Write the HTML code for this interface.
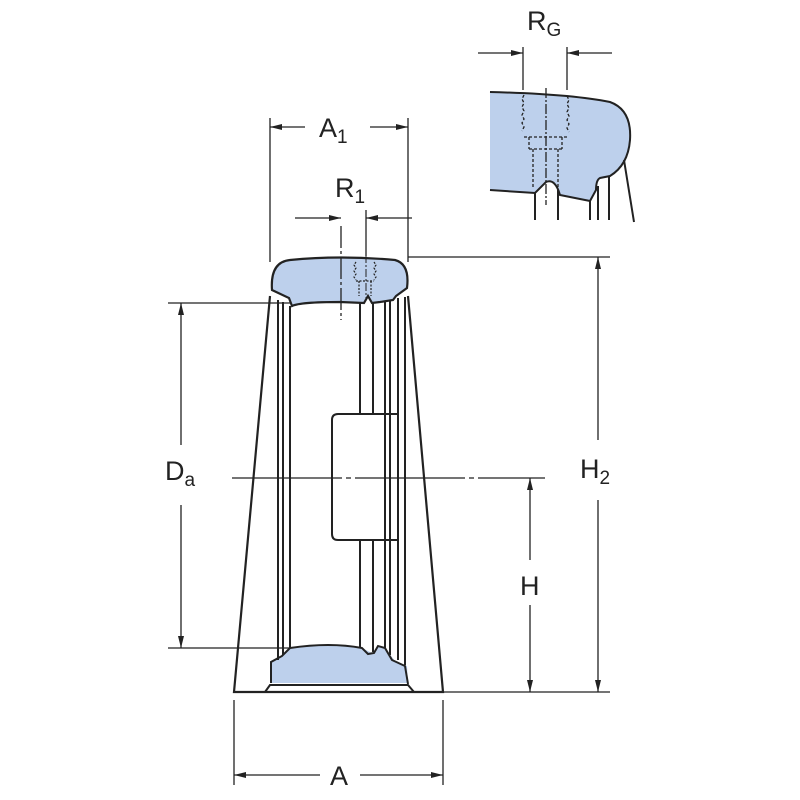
<!DOCTYPE html>
<html><head><style>body{margin:0;background:#fff}svg{display:block}text{font-family:"Liberation Sans",sans-serif;fill:#222}</style></head>
<body>
<svg width="800" height="800" viewBox="0 0 800 800" xmlns="http://www.w3.org/2000/svg">
<defs><marker id="a" markerWidth="12" markerHeight="8" refX="12" refY="4" orient="auto" markerUnits="userSpaceOnUse"><path d="M0,1 L12,4 L0,7 Z" fill="#222"/></marker></defs>
<g stroke="#222" fill="none" stroke-width="1.3">
<!-- blue cap -->
<path d="M272,290 Q270,262 290,260 Q340,255 395,260 Q410,264 407,288 L396,296 L393,300 L380,302 L372,303 L368,296 L364,303 L340,302 Q300,302 292,306 L289,298 Z" fill="#bdd0ec" stroke-width="2.2"/>
<!-- blue bottom -->
<path d="M271,683 L271,662 L282,656 L290,648 Q330,642 362,648 L372,653 L378,646 L385,648 L395,661 L407,666 L408,683 Z" fill="#bdd0ec" stroke="none"/>
<path d="M271,683 L271,662 L282,656 L290,648 Q330,642 362,648 L368,654 L374,653 L378,646 L385,648 L392,660 L405,666 L408,684" stroke-width="2"/>
<!-- outer taper -->
<path d="M270,296 L234,692 L443,692 L408,296" stroke-width="2.2"/>
<path d="M265,692 L270,685 L408,685 L414,692" stroke-width="2"/>
<!-- verticals -->
<g stroke-width="2">
<line x1="278" y1="300" x2="278" y2="660"/><line x1="283" y1="302" x2="283" y2="655"/><line x1="290" y1="306" x2="290" y2="648"/>
<line x1="360" y1="302" x2="360" y2="414"/><line x1="360" y1="540" x2="360" y2="648"/>
<line x1="373" y1="303" x2="373" y2="414"/><line x1="373" y1="540" x2="373" y2="652"/>
<line x1="385" y1="302" x2="385" y2="648"/><line x1="390" y1="301" x2="390" y2="655"/>
<line x1="398" y1="298" x2="398" y2="660"/><line x1="405" y1="297" x2="405" y2="665"/>
<path d="M398,414 L338,414 Q332,414 332,420 L332,534 Q332,540 338,540 L398,540"/>
</g>
<!-- thread -->
<path d="M356,262 l-2,3 l2,3 l-2,3 l2,3 l-2,3 l2,3 M374,262 l2,3 l-2,3 l2,3 l-2,3 l2,3 l-2,3 M356,281 h18 M359,281 v15 M371,281 v15" stroke-dasharray="2,1.5" stroke-width="1.2"/>
<line x1="366" y1="255" x2="366" y2="300" stroke-dasharray="8,2,2,2" stroke-width="1"/>
<line x1="341" y1="226" x2="341" y2="320" stroke-dasharray="22,3,3,3"/>
<!-- center line -->
<line x1="232" y1="478" x2="545" y2="478" stroke-dasharray="110,4,5,4"/>
<!-- dimensions -->
<line x1="270" y1="118" x2="270" y2="262"/><line x1="408" y1="118" x2="408" y2="262"/>
<line x1="305" y1="127" x2="270" y2="127" marker-end="url(#a)"/><line x1="370" y1="127" x2="408" y2="127" marker-end="url(#a)"/>
<line x1="366" y1="210" x2="366" y2="256"/>
<line x1="295" y1="218" x2="341" y2="218" marker-end="url(#a)"/><line x1="412" y1="218" x2="366" y2="218" marker-end="url(#a)"/>
<line x1="408" y1="257" x2="610" y2="257"/><line x1="443" y1="692" x2="610" y2="692"/>
<line x1="598" y1="440" x2="598" y2="257" marker-end="url(#a)"/><line x1="598" y1="500" x2="598" y2="692" marker-end="url(#a)"/>
<line x1="530" y1="560" x2="530" y2="478" marker-end="url(#a)"/><line x1="530" y1="605" x2="530" y2="692" marker-end="url(#a)"/>
<line x1="168" y1="303" x2="290" y2="303"/><line x1="168" y1="648" x2="290" y2="648"/>
<line x1="181" y1="445" x2="181" y2="303" marker-end="url(#a)"/><line x1="181" y1="505" x2="181" y2="648" marker-end="url(#a)"/>
<line x1="234" y1="700" x2="234" y2="785"/><line x1="443" y1="700" x2="443" y2="785"/>
<line x1="320" y1="775" x2="234" y2="775" marker-end="url(#a)"/><line x1="360" y1="775" x2="443" y2="775" marker-end="url(#a)"/>
<!-- inset -->
<path d="M490,92 Q570,94 610,102 Q632,110 630,140 Q628,165 610,176 L600,178 Q596,180 596,190 L590,201 L560,195 Q555,178 546,182 Q540,188 535,193 L490,190 Z" fill="#bdd0ec" stroke="none"/>
<path d="M490,92 Q570,94 610,102 Q632,110 630,140 Q628,165 610,176 L600,178 Q596,180 596,190 L590,201 L560,195 Q555,178 546,182 Q540,188 535,193 L490,190" stroke-width="2"/>
<path d="M535,193 L535,220 M558,190 L558,220 M590,201 L590,220 M598,186 L598,220 M609,177 L609,220 M624,160 L634,222" stroke-width="2"/>
<path d="M524,95 l-2,4 l2,4 l-2,4 l2,4 l-2,4 l2,4 l-2,4 l2,4 l-2,4 M567,96 l2,4 l-2,4 l2,4 l-2,4 l2,4 l-2,4 l2,4 l-2,4 l2,4 M524,137 h43 M529,137 v12 M562,137 v12 M529,149 h33 M533,149 v40 M558,149 v40" stroke-dasharray="3,2" stroke-width="1.3"/>
<line x1="546" y1="88" x2="546" y2="205" stroke-dasharray="10,2,2,2"/>
<line x1="523" y1="47" x2="523" y2="90"/><line x1="567" y1="47" x2="567" y2="90"/>
<line x1="478" y1="53" x2="523" y2="53" marker-end="url(#a)"/><line x1="612" y1="53" x2="567" y2="53" marker-end="url(#a)"/>
</g>
<g font-size="27">
<text x="319" y="137">A<tspan font-size="19" dy="6">1</tspan></text>
<text x="335" y="197">R<tspan font-size="19" dy="6">1</tspan></text>
<text x="527" y="30">R<tspan font-size="19" dy="6">G</tspan></text>
<text x="580" y="478">H<tspan font-size="19" dy="6">2</tspan></text>
<text x="520" y="595">H</text>
<text x="165" y="480">D<tspan font-size="19" dy="6">a</tspan></text>
<text x="330" y="785">A</text>
</g>
</svg>
</body></html>
